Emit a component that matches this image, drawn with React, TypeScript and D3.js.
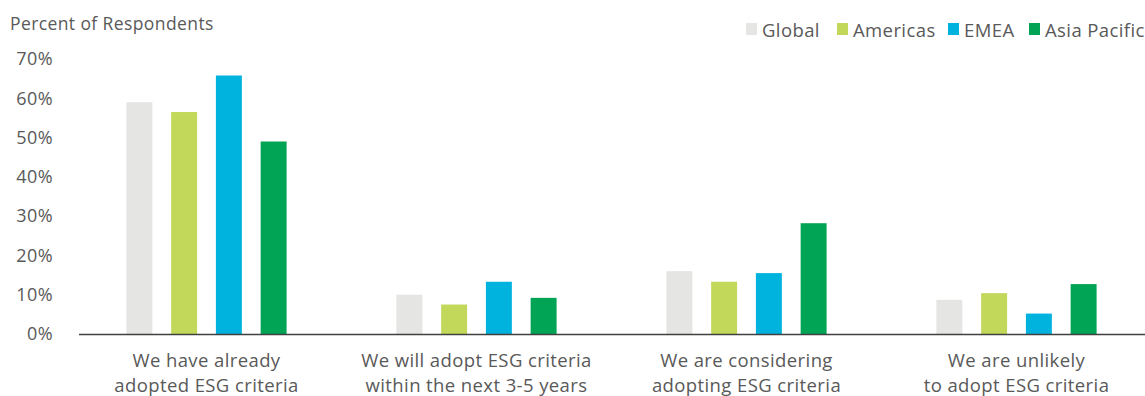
import React from "react";
import * as d3 from "d3";

const categories = [
  ["We have already", "adopted ESG criteria"],
  ["We will adopt ESG criteria", "within the next 3-5 years"],
  ["We are considering", "adopting ESG criteria"],
  ["We are unlikely", "to adopt ESG criteria"],
];
const seriesNames = ["Global", "Americas", "EMEA", "Asia Pacific"];
const globalVals = [59, 10, 16, 8.7];
const americasVals = [56.5, 7.5, 13.3, 10.4];
const emeaVals = [65.8, 13.3, 15.5, 5.2];
const apacVals = [49, 9.2, 28.2, 12.7];
const yTicks = [0, 10, 20, 30, 40, 50, 60, 70];
const colors = ["#E5E5E3", "#C2D85A", "#00B2DE", "#00A454"];

const W = 1145;
const H = 396;
const FONT = "'Open Sans', Lato, sans-serif";
const TEXT = "#595959";

export default function App() {
  const series = [globalVals, americasVals, emeaVals, apacVals];
  const y = d3.scaleLinear().domain([0, 70]).range([334, 59]);
  const x0 = d3
    .scaleBand<number>()
    .domain(d3.range(categories.length))
    .range([71.5, 1151.5])
    .padding(0);
  const x1 = d3
    .scaleBand<number>()
    .domain(d3.range(seriesNames.length))
    .range([45.5, 224.5])
    .paddingInner(0.42)
    .paddingOuter(0.21);

  const legendX = [746, 837, 948, 1029];

  return (
    <svg
      width={W}
      height={H}
      style={{ position: "absolute", left: 0, top: 0, background: "#fff" }}
      fontFamily={FONT}
    >
      <text x={10} y={30} fontSize={17.5} fill={TEXT} letterSpacing={0.4}>
        Percent of Respondents
      </text>
      {yTicks.map((t) => (
        <text
          key={t}
          x={53}
          y={y(t)}
          dy="0.35em"
          textAnchor="end"
          fontSize={18}
          fill={TEXT}
          letterSpacing={0.4}
        >
          {t}%
        </text>
      ))}
      {categories.map((c, ci) => (
        <g key={ci} transform={`translate(${x0(ci)},0)`}>
          {series.map((s, si) => (
            <rect
              key={si}
              x={x1(si)}
              y={y(s[ci])}
              width={x1.bandwidth()}
              height={y(0) - y(s[ci])}
              fill={colors[si]}
            />
          ))}
          {c.map((line, li) => (
            <text
              key={li}
              x={x0.bandwidth() / 2}
              y={367 + li * 25}
              textAnchor="middle"
              fontSize={18.5}
              fill={TEXT}
              letterSpacing={0.4}
            >
              {line}
            </text>
          ))}
        </g>
      ))}
      <line x1={79} x2={W} y1={334.5} y2={334.5} stroke="#404040" strokeWidth={1.5} />
      {seriesNames.map((n, i) => (
        <g key={n}>
          <rect x={legendX[i]} y={23} width={11} height={12} fill={colors[i]} />
          <text x={legendX[i] + 16} y={37} fontSize={18.5} fill={TEXT} letterSpacing={0.4}>
            {n}
          </text>
        </g>
      ))}
    </svg>
  );
}
